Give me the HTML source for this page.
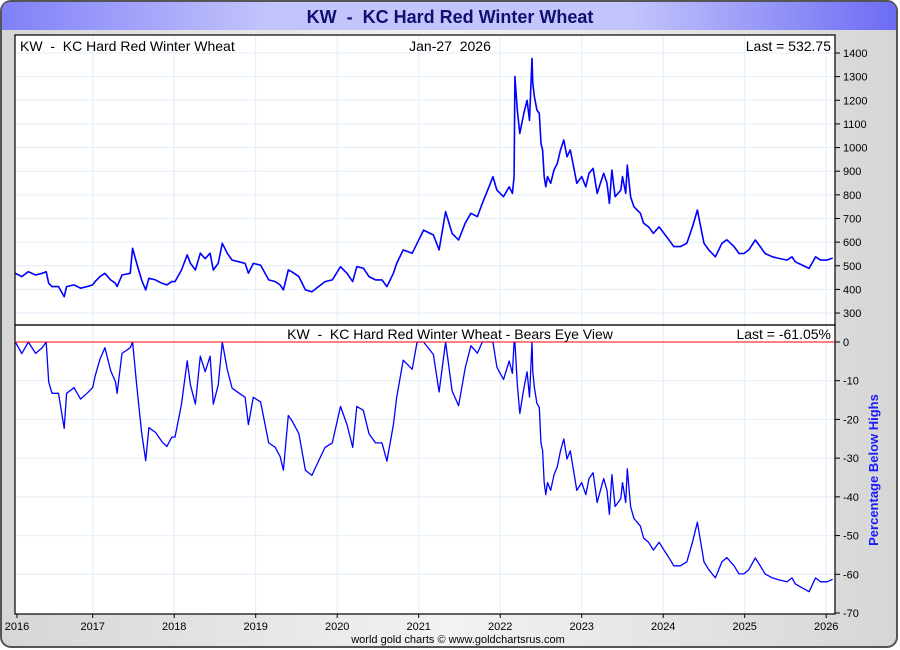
<!DOCTYPE html>
<html><head><meta charset="utf-8">
<style>
html,body{margin:0;padding:0;width:900px;height:650px;overflow:hidden;background:#fff;font-family:"Liberation Sans",sans-serif;}
svg text{font-family:"Liberation Sans",sans-serif;white-space:pre;}
</style></head>
<body>
<svg id="chart" width="900" height="650" viewBox="0 0 900 650" xmlns="http://www.w3.org/2000/svg">
<defs>
<linearGradient id="bg" x1="0" y1="0" x2="1" y2="0">
<stop offset="0" stop-color="#d6d6d6"/><stop offset="0.5" stop-color="#f2f2f2"/><stop offset="1" stop-color="#d6d6d6"/>
</linearGradient>
<linearGradient id="tb" x1="0" y1="0" x2="1" y2="0">
<stop offset="0" stop-color="#8080f8"/><stop offset="0.3" stop-color="#c4c4fc"/><stop offset="0.7" stop-color="#c4c4fc"/><stop offset="1" stop-color="#6c6cf4"/>
</linearGradient>
</defs>
<rect x="1" y="1" width="896" height="646" rx="10" fill="url(#bg)" stroke="#555" stroke-width="2"/>
<path d="M2,30 L2,11 Q2,2 11,2 L887,2 Q896,2 896,11 L896,30 Z" fill="url(#tb)"/>
<text x="450" y="23" text-anchor="middle" font-size="18" font-weight="bold" fill="#101070">KW  -  KC Hard Red Winter Wheat</text>
<rect x="15" y="35" width="820" height="579" fill="#fff"/>
<g id="grid"></g>
<g id="series"></g>
<rect x="15" y="35" width="820" height="290" fill="none" stroke="#000" stroke-width="1.2"/>
<rect x="15" y="325" width="820" height="289" fill="none" stroke="#000" stroke-width="1.2"/>
<line x1="15" y1="342" x2="835" y2="342" stroke="#ff0000" stroke-width="1"/>
<g id="axes"></g>
<text x="20" y="51" font-size="14" fill="#000">KW  -  KC Hard Red Winter Wheat</text>
<text x="450" y="51" text-anchor="middle" font-size="14" fill="#000">Jan-27  2026</text>
<text x="831" y="51" text-anchor="end" font-size="14" fill="#000">Last = 532.75</text>
<text x="450" y="339" text-anchor="middle" font-size="14" fill="#000">KW  -  KC Hard Red Winter Wheat - Bears Eye View</text>
<text x="831" y="339" text-anchor="end" font-size="14" fill="#000">Last = -61.05%</text>
<text transform="translate(878,470) rotate(-90)" text-anchor="middle" font-size="13" font-weight="bold" fill="#1a1aff">Percentage Below Highs</text>
<text x="458" y="643" text-anchor="middle" font-size="11" fill="#000">world gold charts © www.goldchartsrus.com</text>
</svg>
<script>
const dates = [2016.05,2016.13,2016.21,2016.30,2016.38,2016.43,2016.46,2016.50,2016.58,2016.65,2016.68,2016.77,2016.85,2016.93,2017.00,2017.03,2017.09,2017.15,2017.22,2017.28,2017.30,2017.36,2017.46,2017.49,2017.54,2017.60,2017.65,2017.69,2017.77,2017.85,2017.91,2017.97,2018.01,2018.09,2018.16,2018.20,2018.26,2018.32,2018.38,2018.44,2018.48,2018.54,2018.59,2018.65,2018.71,2018.79,2018.87,2018.91,2018.97,2019.06,2019.16,2019.24,2019.30,2019.34,2019.40,2019.44,2019.53,2019.61,2019.69,2019.77,2019.85,2019.94,2020.04,2020.12,2020.19,2020.24,2020.32,2020.39,2020.47,2020.55,2020.61,2020.69,2020.73,2020.81,2020.92,2020.98,2021.06,2021.18,2021.25,2021.33,2021.41,2021.49,2021.57,2021.64,2021.72,2021.78,2021.88,2021.91,2021.96,2022.04,2022.11,2022.15,2022.17,2022.18,2022.21,2022.24,2022.29,2022.33,2022.36,2022.39,2022.40,2022.42,2022.45,2022.48,2022.50,2022.52,2022.54,2022.56,2022.58,2022.62,2022.66,2022.70,2022.74,2022.78,2022.82,2022.86,2022.90,2022.94,2023.00,2023.05,2023.09,2023.14,2023.19,2023.23,2023.27,2023.31,2023.34,2023.37,2023.41,2023.48,2023.50,2023.54,2023.56,2023.60,2023.64,2023.72,2023.76,2023.82,2023.88,2023.95,2024.01,2024.07,2024.13,2024.21,2024.29,2024.36,2024.42,2024.46,2024.50,2024.56,2024.64,2024.72,2024.78,2024.87,2024.93,2024.99,2025.05,2025.13,2025.19,2025.25,2025.34,2025.42,2025.52,2025.58,2025.62,2025.66,2025.79,2025.87,2025.93,2026.01,2026.08];
const prices = [468,454,475,461,468,475,426,412,412,369,412,419,405,412,419,433,454,468,440,426,412,461,468,574,510,440,398,447,440,426,419,433,433,482,546,510,482,553,530,553,482,510,595,553,524,517,510,468,510,503,440,433,419,398,482,475,454,398,390,412,433,440,496,468,433,496,490,454,440,440,412,468,510,567,553,595,651,630,567,729,637,609,680,722,708,764,849,877,820,792,834,806,877,1300,1159,1060,1144,1200,1115,1377,1272,1215,1159,1144,1017,990,877,834,877,849,905,933,990,1032,961,990,919,849,877,834,891,912,806,849,891,849,764,905,792,820,877,806,926,792,750,722,680,665,637,665,637,610,581,581,595,665,736,665,595,567,538,595,610,581,552,552,567,609,581,552,538,531,524,538,517,510,489,538,524,524,533];
const priceTicks = [1400,1300,1200,1100,1000,900,800,700,600,500,400,300];
const pctTicks = [0,-10,-20,-30,-40,-50,-60,-70];
const yearTicks = [2016,2017,2018,2019,2020,2021,2022,2023,2024,2025,2026];

const NS = "http://www.w3.org/2000/svg";
function xs(t){ return Math.max(15, 92.7 + (t - 2017) * 81.5); }
function yp(p){ return 53 + (1400 - p) * 0.2364; }
function yq(q){ return 342 - q * (271 / 70); }
function mk(tag, attrs, parent){ const e = document.createElementNS(NS, tag); for (const k in attrs) e.setAttribute(k, attrs[k]); parent.appendChild(e); return e; }

const grid = document.getElementById('grid');
const axes = document.getElementById('axes');
const series = document.getElementById('series');

yearTicks.forEach(function(yr){
  const x = yr === 2016 ? 17 : xs(yr);
  if (yr > 2016) {
    const g = mk('line', {x1:x, y1:35, x2:x, y2:614, stroke:'#e2eef8', 'stroke-width':1}, grid);
    
    
  }
  const t = mk('line', {x1:x, y1:614, x2:x, y2:618, stroke:'#000'}, axes);
  
  
  const l = mk('text', {x:x, y:630, 'text-anchor':'middle', 'font-size':11, fill:'#000'}, axes);
  l.textContent = yr;
  
  
});

priceTicks.forEach(function(p){
  const y = yp(p);
  const g = mk('line', {x1:15, y1:y, x2:835, y2:y, stroke:'#e2eef8'}, grid);
  
  
  const t = mk('line', {x1:835, y1:y, x2:840, y2:y, stroke:'#000'}, axes);
  
  
  const l = mk('text', {x:843, y:y + 4, 'font-size':11, fill:'#000'}, axes);
  l.textContent = p;
  
  
});

pctTicks.forEach(function(q){
  const y = yq(q);
  if (q !== 0 && q !== -70) {
    const g = mk('line', {x1:15, y1:y, x2:835, y2:y, stroke:'#e2eef8'}, grid);
    
    
  }
  const t = mk('line', {x1:835, y1:y, x2:840, y2:y, stroke:'#000'}, axes);
  
  
  const l = mk('text', {x:843, y:y + 4, 'font-size':11, fill:'#000'}, axes);
  l.textContent = q;
  
  
});

let d1 = '', d2 = '', runMax = -Infinity;
dates.forEach(function(t, i){
  const p = prices[i];
  runMax = Math.max(runMax, p);
  const q = (p / runMax - 1) * 100;
  d1 += (i ? 'L' : 'M') + xs(t).toFixed(1) + ',' + yp(p).toFixed(1);
  d2 += (i ? 'L' : 'M') + xs(t).toFixed(1) + ',' + yq(q).toFixed(1);
});
const line1 = mk('path', {d:d1, fill:'none', stroke:'#0000ff', 'stroke-width':1.6, 'stroke-linejoin':'round'}, series);


const line2 = mk('path', {d:d2, fill:'none', stroke:'#0000ff', 'stroke-width':1.3, 'stroke-linejoin':'round'}, series);


</script>
</body></html>
